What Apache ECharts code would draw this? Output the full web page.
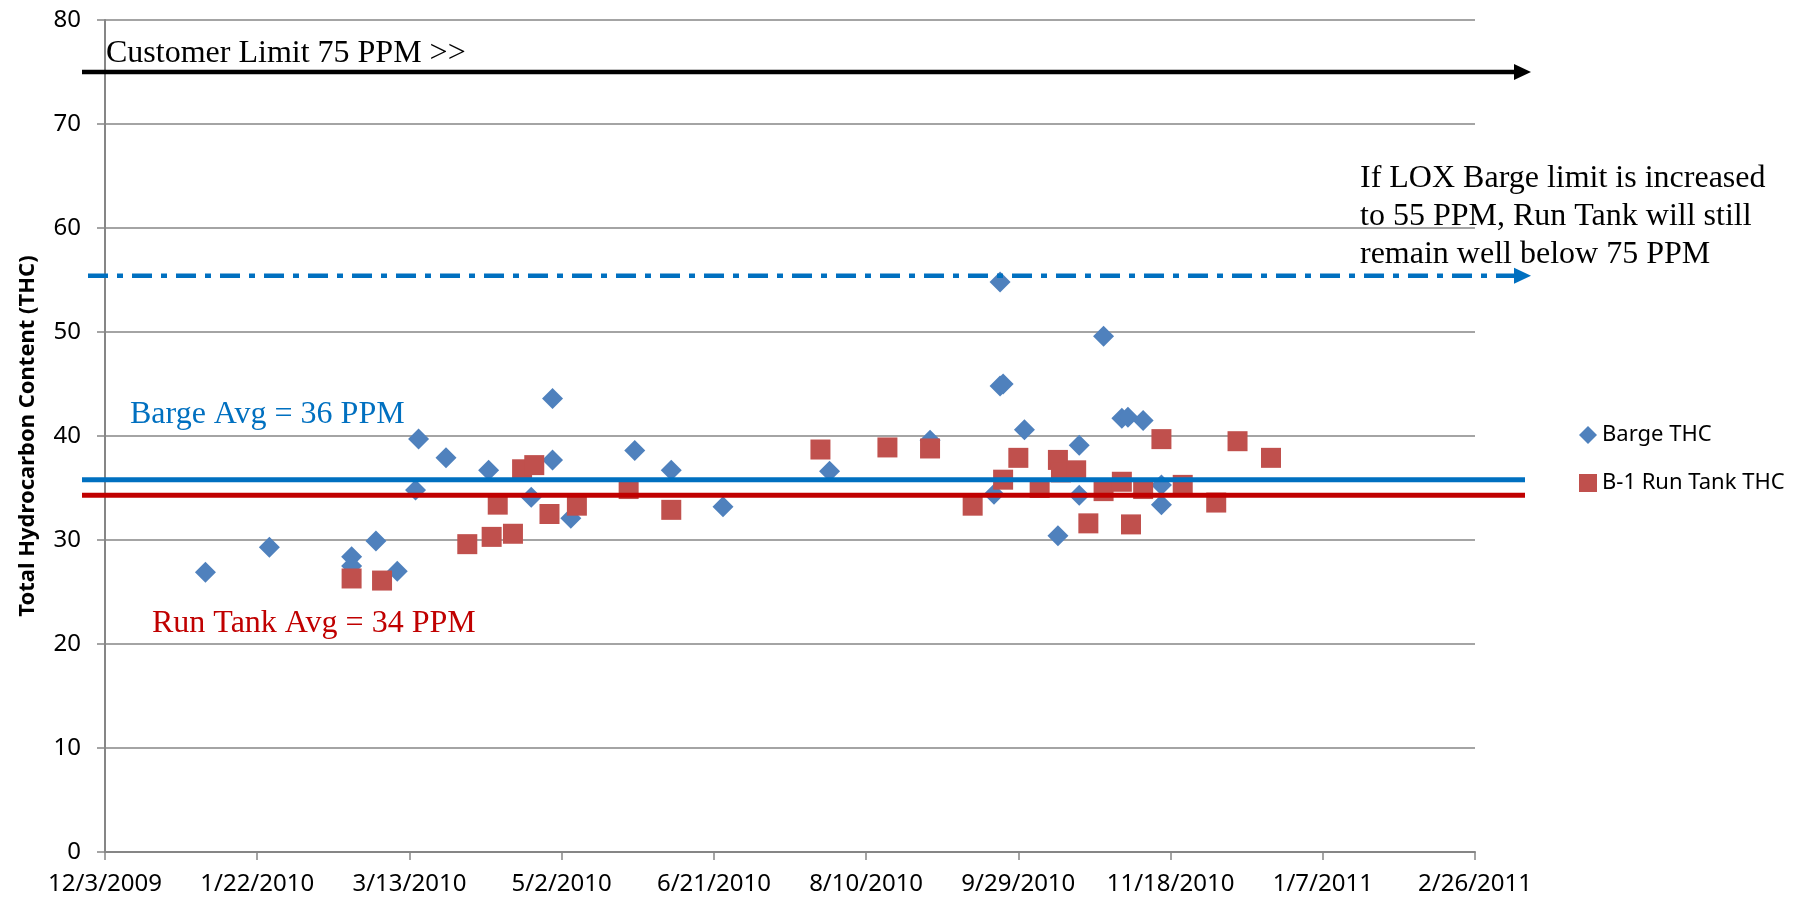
<!DOCTYPE html>
<html>
<head>
<meta charset="utf-8" />
<title>Total Hydrocarbon Content</title>
<script src="https://cdn.jsdelivr.net/npm/echarts@6.0.0/dist/echarts.min.js"></script>
<style>
  body { margin: 0; background: #fff; }
  #main { width: 1811px; height: 900px; }
</style>
</head>
<body>
<div id="main"></div>
<script>
// x axis runs in days counted from startDate
var startDate = '2009-12-03';
var xMaxDays = 450;
var xStepDays = 50;

var bargeDates = ['2010-01-05', '2010-01-26', '2010-02-22', '2010-02-22', '2010-03-02', '2010-03-09',
  '2010-03-15', '2010-03-16', '2010-03-25', '2010-04-08', '2010-04-22', '2010-04-29', '2010-04-29',
  '2010-05-05', '2010-05-26', '2010-06-07', '2010-06-24', '2010-07-29', '2010-08-31', '2010-09-21',
  '2010-09-23', '2010-09-23', '2010-09-24', '2010-10-01', '2010-10-12', '2010-10-19', '2010-10-19',
  '2010-10-27', '2010-11-02', '2010-11-04', '2010-11-09', '2010-11-15', '2010-11-15'];
var bargeTHC = [26.9, 29.3, 28.4, 27.5, 29.9, 27.0,
  34.8, 39.7, 37.9, 36.7, 34.1, 43.6, 37.7,
  32.1, 38.6, 36.7, 33.2, 36.6, 39.6, 34.4,
  54.8, 44.8, 45.0, 40.6, 30.4, 39.1, 34.3,
  49.6, 41.7, 41.8, 41.5, 35.3, 33.4];

var tankDates = ['2010-02-22', '2010-03-04', '2010-04-01', '2010-04-09', '2010-04-11', '2010-04-16',
  '2010-04-19', '2010-04-23', '2010-04-28', '2010-05-07', '2010-05-24', '2010-06-07', '2010-07-26',
  '2010-08-17', '2010-08-31', '2010-09-14', '2010-09-24', '2010-09-29', '2010-10-06', '2010-10-12',
  '2010-10-13', '2010-10-18', '2010-10-22', '2010-10-27', '2010-11-02', '2010-11-05', '2010-11-09',
  '2010-11-15', '2010-11-22', '2010-12-03', '2010-12-10', '2010-12-21'];
var tankTHC = [26.3, 26.1, 29.6, 30.3, 33.4, 30.6,
  36.8, 37.2, 32.5, 33.3, 34.9, 32.9, 38.7,
  38.9, 38.8, 33.3, 35.8, 37.9, 35.0, 37.7,
  36.5, 36.7, 31.6, 34.7, 35.6, 31.5, 34.9,
  39.7, 35.3, 33.6, 39.5, 37.9];

var customerLimit = 75;
var loxLimit = 55.4;
var bargeAvg = 35.8;
var tankAvg = 34.3;

var DAY = 86400000;
var t0 = Date.parse(startDate);

function toDays(d) {
  return (Date.parse(d) - t0) / DAY;
}
function pairs(dates, vals) {
  return dates.map(function (d, i) { return [toDays(d), vals[i]]; });
}
function dayLabel(v) {
  var d = new Date(t0 + v * DAY);
  return (d.getUTCMonth() + 1) + '/' + d.getUTCDate() + '/' + d.getUTCFullYear();
}

var axisFont = { fontFamily: 'Noto Sans', fontSize: 24, color: '#000' };
var axisGrey = '#868686';

var chart = echarts.init(document.getElementById('main'));
var option = {
  animation: false,
  grid: { left: 105, right: 336, top: 20, bottom: 48 },
  legend: {
    orient: 'vertical',
    left: 1574,
    top: 419,
    itemWidth: 18,
    itemHeight: 18,
    itemGap: 26,
    textStyle: { fontFamily: 'Noto Sans', fontSize: 22, color: '#000' },
    data: ['Barge THC', 'B-1 Run Tank THC']
  },
  xAxis: {
    type: 'value',
    min: 0,
    max: xMaxDays,
    interval: xStepDays,
    splitLine: { show: false },
    axisLine: { lineStyle: { color: axisGrey, width: 2 } },
    axisTick: { length: 8, lineStyle: { color: axisGrey, width: 1.5 } },
    axisLabel: Object.assign({ margin: 20, formatter: dayLabel }, axisFont)
  },
  yAxis: {
    type: 'value',
    min: 0,
    max: 80,
    interval: 10,
    name: 'Total Hydrocarbon Content (THC)',
    nameLocation: 'middle',
    nameRotate: 90,
    nameGap: 66,
    nameTextStyle: { fontFamily: 'Noto Sans', fontSize: 22, fontWeight: 'bold', color: '#000' },
    axisLine: { show: true, lineStyle: { color: axisGrey, width: 2 } },
    axisTick: { show: true, length: 8, lineStyle: { color: axisGrey, width: 1.5 } },
    splitLine: { lineStyle: { color: axisGrey, width: 1.5 } },
    axisLabel: Object.assign({ margin: 24 }, axisFont)
  },
  series: [
    {
      name: 'Barge THC',
      type: 'scatter',
      symbol: 'diamond',
      symbolSize: 21,
      itemStyle: { color: '#4F81BD', opacity: 1 },
      data: pairs(bargeDates, bargeTHC)
    },
    {
      name: 'B-1 Run Tank THC',
      type: 'scatter',
      symbol: 'rect',
      symbolSize: 20,
      itemStyle: { color: '#C0504D', opacity: 1 },
      data: pairs(tankDates, tankTHC)
    }
  ]
};
chart.setOption(option);

// reference lines and notes, placed from the y axis scale
function yPx(v) {
  return chart.convertToPixel({ yAxisIndex: 0 }, v);
}
function hLine(y, x1, x2, color, w, dash) {
  return {
    type: 'line', z: 100,
    shape: { x1: x1, y1: y, x2: x2, y2: y },
    style: { stroke: color, lineWidth: w, lineDash: dash || null }
  };
}
function arrowHead(y, tip, color) {
  return {
    type: 'polygon', z: 100,
    shape: { points: [[tip - 17, y - 8], [tip, y], [tip - 17, y + 8]] },
    style: { fill: color }
  };
}
function note(x, y, text, color) {
  return {
    type: 'text', z: 100, x: x, y: y,
    style: {
      text: text, fill: color,
      font: '32px "Liberation Serif"',
      textVerticalAlign: 'middle', lineHeight: 38
    }
  };
}

var yC = yPx(customerLimit);
var yL = yPx(loxLimit);
var yB = yPx(bargeAvg);
var yT = yPx(tankAvg);

chart.setOption({
  graphic: [
    hLine(yC, 82, 1516, '#000', 4.5),
    arrowHead(yC, 1531, '#000'),
    hLine(yL, 88, 1516, '#0070C0', 4.5, [20, 9, 6, 9]),
    arrowHead(yL, 1531, '#0070C0'),
    hLine(yB, 82, 1525, '#0070C0', 5),
    hLine(yT, 82, 1525, '#C00000', 5),
    note(106, 54, 'Customer Limit 75 PPM >>', '#000'),
    note(1360, 217, 'If LOX Barge limit is increased\nto 55 PPM, Run Tank will still\nremain well below 75 PPM', '#000'),
    note(130, 415, 'Barge Avg = 36 PPM', '#0070C0'),
    note(152, 624, 'Run Tank Avg = 34 PPM', '#C00000')
  ]
});
</script>
</body>
</html>
